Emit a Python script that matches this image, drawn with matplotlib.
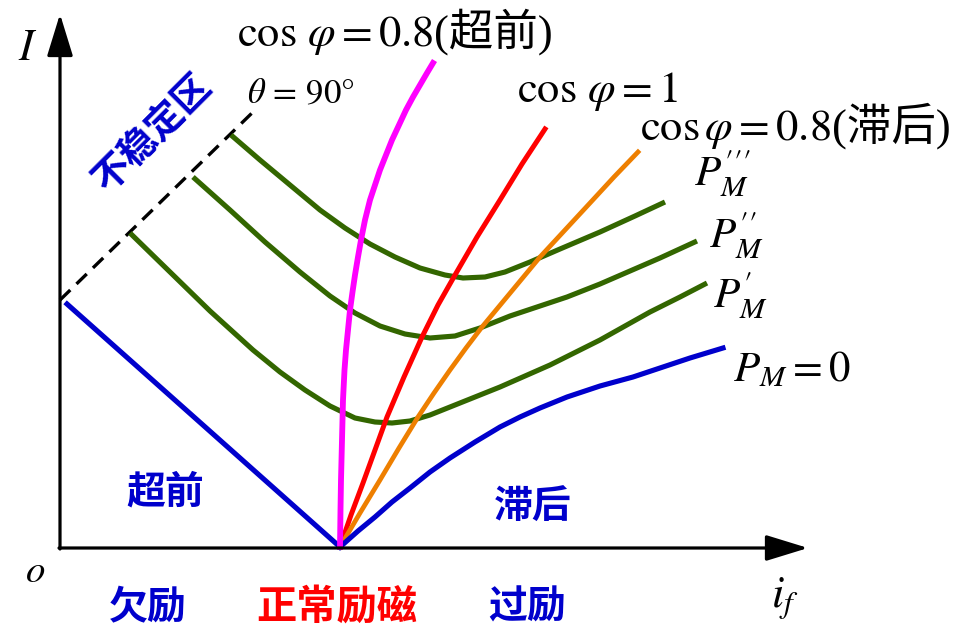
import numpy as np
import matplotlib
matplotlib.use("Agg")
import matplotlib.pyplot as plt

plt.rcParams['mathtext.fontset'] = 'stix'
plt.rcParams['font.family'] = ['Liberation Serif', 'Noto Sans CJK SC']

# 数据：按图中像素坐标读取 (x 向右, y 向下)
origin = (60, 548)

# θ=90° 稳定极限 (虚线)
limit_x = [60, 252]
limit_y = [300, 113]

# P_M = 0 (蓝色 V 形)
p0_left_x = [67, 340]
p0_left_y = [304, 547]
p0_right_x = [340, 358, 375, 392, 410, 430, 450, 475, 500, 520, 540, 567, 600, 633, 660, 690, 723]
p0_right_y = [547, 531, 517, 502, 488, 472, 458, 442, 427, 417, 408, 397, 386, 377, 368, 358, 348]

# P_M' / P_M'' / P_M''' (绿色 V 形曲线)
p1_x = [130, 170, 210, 253, 280, 305, 330, 355, 375, 392, 410, 430, 460, 500, 550, 600, 650, 680, 707]
p1_y = [233, 272, 311, 350, 372, 390, 406, 418, 422, 423, 421, 415, 403, 387, 365, 340, 312, 297, 283]
p2_x = [193, 230, 265, 300, 330, 355, 380, 405, 430, 455, 480, 510, 540, 567, 600, 630, 660, 697]
p2_y = [177, 210, 242, 272, 296, 313, 326, 334, 338, 336, 328, 316, 306, 297, 284, 271, 258, 241]
p3_x = [231, 260, 290, 320, 345, 370, 395, 420, 445, 463, 485, 505, 530, 560, 600, 635, 665]
p3_y = [135, 160, 185, 210, 228, 244, 257, 268, 275, 278, 277, 272, 262, 249, 232, 216, 202]

# cosφ 曲线
lead_x = [340, 340.5, 341, 342, 343, 344.5, 346, 348, 350, 352.5, 355, 358, 361, 365, 370,
          375, 380, 386, 392, 399, 406, 413, 420, 427, 433]
lead_y = [547, 510, 480, 440, 400, 370, 350, 330, 310, 292, 275, 257, 240, 220, 200,
          185, 170, 155, 140, 125, 110, 97, 85, 73, 63]
unity_x = [340, 351, 363, 375, 387, 404, 422, 438, 455, 477, 500, 522, 545]
unity_y = [547, 515, 483, 450, 417, 377, 337, 305, 275, 237, 200, 164, 129]
lag_x = [340, 360, 380, 399, 418, 434, 450, 466, 482, 511, 540, 565, 590, 614, 638]
lag_y = [547, 513, 480, 448, 417, 393, 370, 348, 327, 292, 257, 230, 203, 177, 152]

blue = '#0000CC'
green = '#336600'

fig = plt.figure(figsize=(9.54, 6.29), dpi=100)
ax = fig.add_axes([0, 0, 1, 1])
ax.set_xlim(0, 954)
ax.set_ylim(629, 0)
ax.axis('off')

# 坐标轴箭头
arrow = dict(arrowstyle='-|>,head_length=1.3,head_width=0.4', lw=2.3, color='black',
             mutation_scale=20, shrinkA=0, shrinkB=0)
ax.annotate('', xy=(808, origin[1]), xytext=(origin[0] - 1, origin[1]), arrowprops=arrow)
ax.annotate('', xy=(origin[0], 14), xytext=(origin[0], origin[1] + 1), arrowprops=arrow)

ax.plot(limit_x, limit_y, color='black', lw=2.4, linestyle=(0, (4.3, 2.6)))

for xs, ys in [(p1_x, p1_y), (p2_x, p2_y), (p3_x, p3_y)]:
    ax.plot(xs, ys, color=green, lw=3.7, solid_joinstyle='round', solid_capstyle='butt')

ax.plot(unity_x, unity_y, color='#FF0000', lw=3.6, solid_joinstyle='round')
ax.plot(lag_x, lag_y, color='#EE7F00', lw=3.4, solid_joinstyle='round')
ax.plot(p0_left_x, p0_left_y, color=blue, lw=3.7)
ax.plot(p0_right_x, p0_right_y, color=blue, lw=3.7, solid_joinstyle='round')
ax.plot(lead_x, lead_y, color='#FF00FF', lw=4.2, solid_joinstyle='round')

# 文字
fs = 32
ax.text(28, 49, r'$I$', fontsize=32, ha='center', va='center')
ax.text(35, 573, r'$o$', fontsize=28, ha='center', va='center')
ax.text(785, 598, r'$i_f$', fontsize=32, ha='center', va='center')
ax.text(301, 95, r'$\theta\,=\,90\degree$', fontsize=25, ha='center', va='center')

fig.canvas.draw()
renderer = fig.canvas.get_renderer()


def mixed(x, y, math, cjk, size):
    t = ax.text(x, y, math, fontsize=size, ha='left', va='baseline')
    bb = t.get_window_extent(renderer)
    x1 = ax.transData.inverted().transform((bb.x1, bb.y0))[0]
    ax.text(x1 + 1, y, cjk, fontsize=size, ha='left', va='baseline')


mixed(237, 46, r'$\cos\,\varphi=0.8$', '(超前)', fs)
ax.text(517, 102, r'$\cos\,\varphi=1$', fontsize=fs, ha='left', va='baseline')
mixed(640, 140, r'$\cos\varphi=0.8$', '(滞后)', fs)

pfs = 31
ax.text(694, 186, r"$P_M^{\prime\prime\prime}$", fontsize=pfs, ha='left', va='baseline')
ax.text(709, 248, r"$P_M^{\prime\prime}$", fontsize=pfs, ha='left', va='baseline')
ax.text(713, 308, r"$P_M^{\prime}$", fontsize=pfs, ha='left', va='baseline')
ax.text(733, 381, r'$P_M=0$', fontsize=pfs, ha='left', va='baseline')

cjk = ['Noto Sans CJK SC']
ax.text(152, 132, '不稳定区', fontsize=27, color=blue, rotation=45, family=cjk,
        ha='center', va='center', rotation_mode='anchor', weight='bold')
ax.text(165, 492, '超前', fontsize=28, color=blue, family=cjk, ha='center', va='center', weight='bold')
ax.text(533, 507, '滞后', fontsize=28, color=blue, family=cjk, ha='center', va='center', weight='bold')
ax.text(148, 607, '欠励', fontsize=28, color=blue, family=cjk, ha='center', va='center', weight='bold')
ax.text(337, 607, '正常励磁', fontsize=29, color='#FF0000', family=cjk, ha='center', va='center', weight='bold')
ax.text(527, 607, '过励', fontsize=28, color=blue, family=cjk, ha='center', va='center', weight='bold')

fig.savefig('out.png', dpi=100)
